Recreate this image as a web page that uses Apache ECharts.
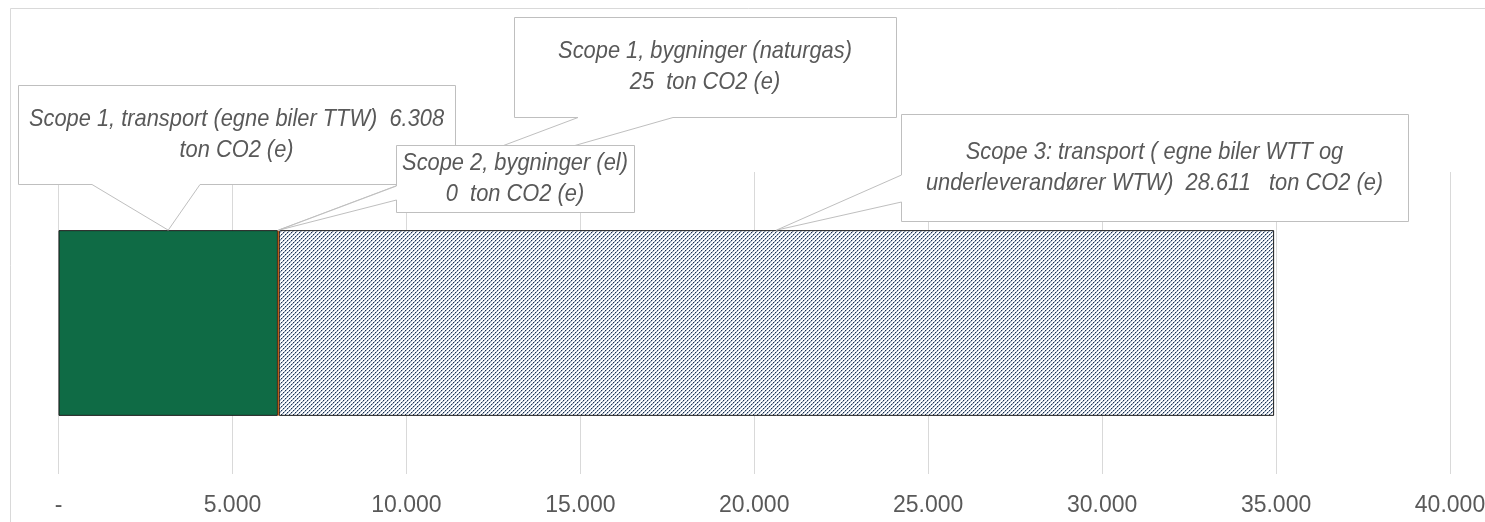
<!DOCTYPE html>
<html>
<head>
<meta charset="utf-8">
<script src="https://cdn.jsdelivr.net/npm/echarts@6/dist/echarts.min.js"></script>
<style>
  html, body { margin: 0; padding: 0; background: #fff; }
  #chart { width: 1485px; height: 522px; }
</style>
</head>
<body>
<div id="chart"></div>
<script>
// data
const categories = ["CO2 (e)"];
const seriesNames = [
  "Scope 1, transport (egne biler TTW)",
  "Scope 1, bygninger (naturgas)",
  "Scope 2, bygninger (el)",
  "Scope 3: transport (egne biler WTT og underleverandører WTW)",
];
const seriesValues = [6308, 25, 0, 28611];
const calloutTexts = [
  "Scope 1, transport (egne biler TTW)  6.308\nton CO2 (e)",
  "Scope 1, bygninger (naturgas)\n25  ton CO2 (e)",
  "Scope 2, bygninger (el)\n0  ton CO2 (e)",
  "Scope 3: transport ( egne biler WTT og\nunderleverandører WTW)  28.611   ton CO2 (e)",
];
const tickLabels = ["-", "5.000", "10.000", "15.000", "20.000", "25.000", "30.000", "35.000", "40.000"];

// layout of the callout boxes (pixels), wedge base either on bottom or left edge
const calloutBoxes = [
  { x1: 18, y1: 85, x2: 455, y2: 184, side: "bottom", b1: 92, b2: 200 },
  { x1: 514, y1: 17, x2: 896, y2: 117, side: "bottom", b1: 578, b2: 673 },
  { x1: 396, y1: 145, x2: 634, y2: 212, side: "left", b1: 186, b2: 200 },
  { x1: 901, y1: 114, x2: 1408, y2: 221, side: "left", b1: 175, b2: 202 },
];
const drawOrder = [1, 0, 3, 2];

const FONT = '"Liberation Sans", Arial, sans-serif';
const GAP = 0.385;

function hatch() {
  const c = document.createElement("canvas");
  c.width = 4;
  c.height = 4;
  const ctx = c.getContext("2d");
  ctx.fillStyle = "#ffffff";
  ctx.fillRect(0, 0, 4, 4);
  for (let r = 0; r < 4; r++) {
    ctx.fillStyle = r % 2 ? "#8497b0" : "#1f3350";
    ctx.fillRect(3 - r, r, 1, 1);
    ctx.fillStyle = "#b8c4d4";
    ctx.fillRect((4 - r) % 4, r, 1, 1);
  }
  return c;
}

const fills = [
  "#0f6b45",
  "#e0701a",
  "#4472c4",
  { image: hatch(), repeat: "repeat" },
];

// midpoint of each stacked segment
let acc = 0;
const anchors = seriesValues.map((v) => {
  const m = acc + v / 2;
  acc += v;
  return m;
});

const chart = echarts.init(document.getElementById("chart"));

const barSeries = seriesValues.map((v, i) => ({
  name: seriesNames[i],
  type: "bar",
  stack: "total",
  barCategoryGap: GAP * 100 + "%",
  data: [v],
  itemStyle: {
    color: fills[i],
    borderColor: i === 1 ? "#e0701a" : "#1a1a1a",
    borderWidth: v > 0 ? 1 : 0,
  },
  silent: true,
}));

const calloutSeries = {
  type: "custom",
  clip: false,
  z: 10,
  data: drawOrder.map((i) => [anchors[i], 0, i]),
  encode: { x: 0, y: 1 },
  renderItem: function (params, api) {
    const i = api.value(2);
    const b = calloutBoxes[i];
    const c = api.coord([api.value(0), 0]);
    const half = (api.size([0, 1])[1] * (1 - GAP)) / 2;
    const tip = [c[0], c[1] - half];
    const x1 = b.x1 + 0.5, x2 = b.x2 + 0.5, y1 = b.y1 + 0.5, y2 = b.y2 + 0.5;
    let pts;
    if (b.side === "bottom") {
      pts = [[x1, y1], [x2, y1], [x2, y2], [b.b2, y2], tip, [b.b1, y2], [x1, y2]];
    } else {
      pts = [[x1, y1], [x2, y1], [x2, y2], [x1, y2], [x1, b.b2], tip, [x1, b.b1]];
    }
    return {
      type: "group",
      children: [
        {
          type: "polygon",
          shape: { points: pts },
          style: { fill: "#ffffff", stroke: "#bfbfbf", lineWidth: 1 },
        },
        {
          type: "text",
          x: (b.x1 + b.x2) / 2,
          y: (b.y1 + b.y2) / 2,
          scaleX: 0.91,
          style: {
            text: calloutTexts[i],
            x: 0,
            y: 0,
            align: "center",
            verticalAlign: "middle",
            fontFamily: FONT,
            fontStyle: "italic",
            fontSize: 24,
            lineHeight: 31,
            fill: "#595959",
          },
        },
      ],
    };
  },
};

chart.setOption({
  animation: false,
  backgroundColor: "#ffffff",
  graphic: [
    {
      type: "rect",
      shape: { x: 10.5, y: 8.5, width: 1500, height: 600 },
      style: { fill: null, stroke: "#d9d9d9", lineWidth: 1 },
      z: -10,
      silent: true,
    },
  ],
  grid: {
    left: 58.5,
    right: 35,
    top: 172,
    bottom: 48,
    containLabel: false,
    outerBoundsMode: "none",
  },
  xAxis: {
    type: "value",
    min: 0,
    max: 40000,
    interval: 5000,
    axisLine: { show: false },
    axisTick: { show: false },
    splitLine: { lineStyle: { color: "#d9d9d9", width: 1 } },
    axisLabel: {
      color: "#595959",
      fontFamily: FONT,
      fontSize: 23,
      margin: 20,
      formatter: (v) => tickLabels[Math.round(v / 5000)],
    },
  },
  yAxis: {
    type: "category",
    data: categories,
    show: false,
  },
  series: [...barSeries, calloutSeries],
});
</script>
</body>
</html>
